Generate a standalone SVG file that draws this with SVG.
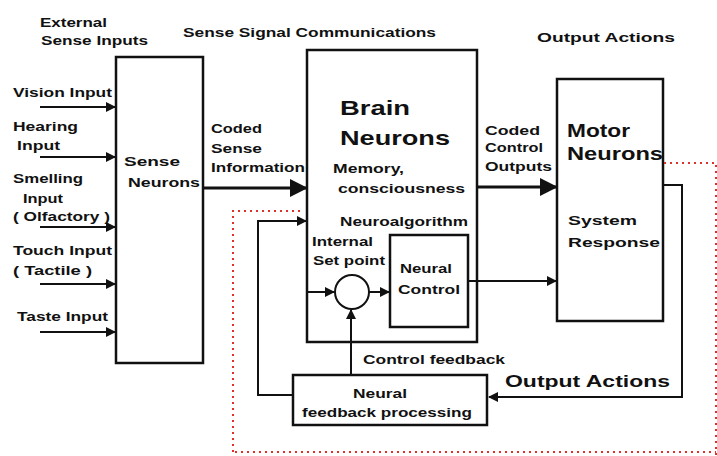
<svg xmlns="http://www.w3.org/2000/svg" width="717" height="456" viewBox="0 0 717 456">
<defs>
<style>
text{font-family:"Liberation Sans",Arial,sans-serif;font-weight:bold;fill:#111;}
.s{font-size:12px;}
.box{fill:#fff;stroke:#111;stroke-width:2.5;}
.ln{fill:none;stroke:#111;stroke-width:2;}
.thick{fill:none;stroke:#111;stroke-width:3;}
.red{fill:none;stroke:#e0302a;stroke-width:2;stroke-dasharray:2 4;}
</style>
<marker id="ah" viewBox="0 0 10 10" refX="9" refY="5" markerWidth="5" markerHeight="5" orient="auto" markerUnits="strokeWidth">
<path d="M0,0 L10,5 L0,10 z" fill="#111"/>
</marker>
<marker id="ahs" viewBox="0 0 10 10" refX="9" refY="5" markerWidth="6" markerHeight="6" orient="auto" markerUnits="strokeWidth">
<path d="M0,0 L10,5 L0,10 z" fill="#111"/>
</marker>
</defs>
<rect width="717" height="456" fill="#fff"/>

<g id="labels">
<text class="s" x="40" y="27" textLength="67" lengthAdjust="spacingAndGlyphs">External</text>
<text class="s" x="41" y="45" textLength="107" lengthAdjust="spacingAndGlyphs">Sense Inputs</text>
<text class="s" x="183" y="37" textLength="253" lengthAdjust="spacingAndGlyphs">Sense Signal Communications</text>
<text class="s" x="537" y="42" font-size="13" textLength="138" lengthAdjust="spacingAndGlyphs">Output Actions</text>
<text class="s" x="13" y="97" textLength="99" lengthAdjust="spacingAndGlyphs">Vision Input</text>
<text class="s" x="13" y="131" textLength="65" lengthAdjust="spacingAndGlyphs">Hearing</text>
<text class="s" x="17" y="150" textLength="43" lengthAdjust="spacingAndGlyphs">Input</text>
<text class="s" x="13" y="183" textLength="70" lengthAdjust="spacingAndGlyphs">Smelling</text>
<text class="s" x="23" y="203" textLength="40" lengthAdjust="spacingAndGlyphs">Input</text>
<text class="s" x="13" y="221" textLength="97" lengthAdjust="spacingAndGlyphs">( Olfactory )</text>
<text class="s" x="13" y="255" textLength="99" lengthAdjust="spacingAndGlyphs">Touch Input</text>
<text class="s" x="13" y="275" textLength="79" lengthAdjust="spacingAndGlyphs">( Tactile )</text>
<text class="s" x="17" y="321" textLength="91" lengthAdjust="spacingAndGlyphs">Taste Input</text>
<text class="s" x="211" y="133" textLength="51" lengthAdjust="spacingAndGlyphs">Coded</text>
<text class="s" x="211" y="153" textLength="51" lengthAdjust="spacingAndGlyphs">Sense</text>
<text class="s" x="211" y="172" textLength="94" lengthAdjust="spacingAndGlyphs">Information</text>
<text class="s" x="485" y="135" textLength="55" lengthAdjust="spacingAndGlyphs">Coded</text>
<text class="s" x="485" y="152" textLength="58" lengthAdjust="spacingAndGlyphs">Control</text>
<text class="s" x="485" y="171" textLength="67" lengthAdjust="spacingAndGlyphs">Outputs</text>
<text class="s" x="363" y="364" textLength="142" lengthAdjust="spacingAndGlyphs">Control feedback</text>
<text x="505" y="387" font-size="17" textLength="165" lengthAdjust="spacingAndGlyphs">Output Actions</text>
<text class="s" x="323" y="283" font-size="13">+</text>
<text class="s" x="360" y="327" font-size="13">-</text>
</g>

<g id="sense-neurons">
<rect class="box" x="116" y="57" width="87" height="306"/>
<text class="s" x="124" y="166" font-size="13" textLength="56" lengthAdjust="spacingAndGlyphs">Sense</text>
<text class="s" x="128" y="187" font-size="13" textLength="72" lengthAdjust="spacingAndGlyphs">Neurons</text>
</g>

<g id="brain-neurons">
<rect class="box" x="307" y="50" width="170" height="292"/>
<text x="340" y="115" font-size="21" textLength="70" lengthAdjust="spacingAndGlyphs">Brain</text>
<text x="340" y="145" font-size="21" textLength="110" lengthAdjust="spacingAndGlyphs">Neurons</text>
<text class="s" x="333" y="173" textLength="71" lengthAdjust="spacingAndGlyphs">Memory,</text>
<text class="s" x="338" y="193" textLength="127" lengthAdjust="spacingAndGlyphs">consciousness</text>
<text class="s" x="340" y="226" textLength="128" lengthAdjust="spacingAndGlyphs">Neuroalgorithm</text>
<text class="s" x="312" y="246" textLength="61" lengthAdjust="spacingAndGlyphs">Internal</text>
<text class="s" x="313" y="265" textLength="72" lengthAdjust="spacingAndGlyphs">Set point</text>
</g>

<g id="summing-junction">
<circle cx="352" cy="292" r="17" fill="#fff" stroke="#111" stroke-width="2"/>
</g>

<g id="neural-control">
<rect class="box" x="390" y="235" width="78" height="92"/>
<text class="s" x="400" y="273" textLength="52" lengthAdjust="spacingAndGlyphs">Neural</text>
<text class="s" x="398" y="294" textLength="62" lengthAdjust="spacingAndGlyphs">Control</text>
</g>

<g id="motor-neurons">
<rect class="box" x="557" y="79" width="106" height="242"/>
<text x="567" y="137" font-size="18" textLength="63" lengthAdjust="spacingAndGlyphs">Motor</text>
<text x="567" y="160" font-size="18" textLength="96" lengthAdjust="spacingAndGlyphs">Neurons</text>
<text class="s" x="568" y="225" textLength="69" lengthAdjust="spacingAndGlyphs">System</text>
<text class="s" x="568" y="247" textLength="92" lengthAdjust="spacingAndGlyphs">Response</text>
</g>

<g id="neural-feedback-processing">
<rect class="box" x="293" y="375" width="194" height="50" stroke-width="2"/>
<text class="s" x="353" y="398" textLength="54" lengthAdjust="spacingAndGlyphs">Neural</text>
<text class="s" x="302" y="417" textLength="170" lengthAdjust="spacingAndGlyphs">feedback processing</text>
</g>

<g id="connectors">
<line class="ln" x1="40" y1="107" x2="115" y2="107" marker-end="url(#ah)" stroke-width="2.5"/>
<line class="ln" x1="40" y1="157" x2="115" y2="157" marker-end="url(#ah)" stroke-width="2.5"/>
<line class="ln" x1="40" y1="227" x2="115" y2="227" marker-end="url(#ah)" stroke-width="2.5"/>
<line class="ln" x1="40" y1="284" x2="115" y2="284" marker-end="url(#ah)" stroke-width="2.5"/>
<line class="ln" x1="40" y1="332" x2="115" y2="332" marker-end="url(#ah)" stroke-width="2.5"/>
<line class="thick" x1="203" y1="188" x2="306" y2="188" marker-end="url(#ahs)"/>
<line class="thick" x1="477" y1="187" x2="556" y2="187" marker-end="url(#ahs)"/>
<line class="ln" x1="308" y1="292" x2="334" y2="292" marker-end="url(#ah)"/>
<line class="ln" x1="369" y1="292" x2="389" y2="292" marker-end="url(#ah)"/>
<line class="ln" x1="468" y1="281" x2="556" y2="281" marker-end="url(#ah)"/>
<polyline class="ln" points="663,185 682,185 682,397 489,397" marker-end="url(#ah)"/>
<line class="ln" x1="351" y1="375" x2="351" y2="310" marker-end="url(#ah)"/>
<polyline class="ln" points="293,395 258,395 258,221 306,221" marker-end="url(#ah)"/>
<polyline class="red" points="300,211 233,211 233,456"/>
<polyline class="red" points="664,163 716,163 716,456"/>
<line class="red" x1="235" y1="452" x2="716" y2="452" stroke="#f0a0a0" stroke-width="1.5"/>
</g>
</svg>
